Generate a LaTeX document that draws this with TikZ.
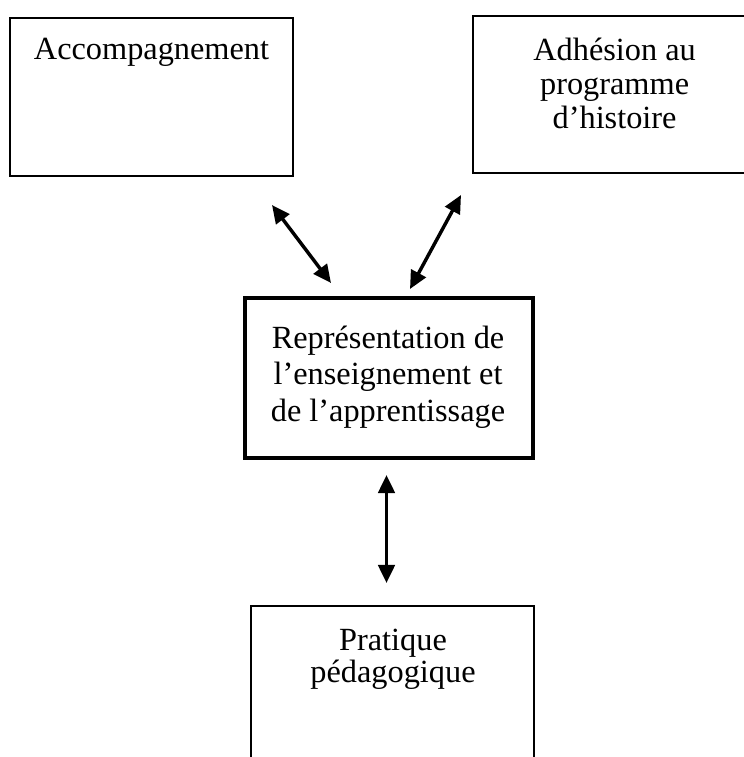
\documentclass[tikz,border=0pt]{standalone}
\usepackage{fontspec}
\setmainfont{Liberation Serif}
\usetikzlibrary{arrows.meta}
\def\px{0.3774pt}
\tikzset{
  box/.style={draw=black, line width=0.6pt, rectangle, inner sep=0pt, outer sep=0pt, anchor=north west},
  thickbox/.style={box, line width=1.6pt},
  txt/.style={inner sep=0pt, align=center, anchor=base},
  link/.style={line width=1.3pt, {Triangle[length=6.8pt,width=6.2pt]}-{Triangle[length=6.8pt,width=6.2pt]}}
}
\begin{document}
\begin{tikzpicture}[x=0.3774pt, y=-0.3774pt]
\path[use as bounding box, clip] (0,0) rectangle (744,757);
\fill[white] (0,0) rectangle (744,757);
% boxes
\node[box, minimum width={283*\px}, minimum height={158*\px}] (acc) at (10,18) {};
\node[box, minimum width={290*\px}, minimum height={157*\px}] (adh) at (473,16) {};
\node[thickbox, minimum width={288*\px}, minimum height={160*\px}] (rep) at (245,298) {};
\node[box, minimum width={283*\px}, minimum height={180*\px}] (pra) at (251,606) {};
% texts
\node[txt, font=\fontsize{12.2}{13.6}\selectfont] (tacc) at (151.5,60) {Accompagnement};
\node[txt, font=\fontsize{12.2}{12.8}\selectfont] (tadh) at (614.6,128) {Adhésion au\\programme\\d’histoire};
\node[txt, font=\fontsize{12.2}{13.6}\selectfont] (trep) at (388,421) {Représentation de\\l’enseignement et\\de l’apprentissage};
\node[txt, font=\fontsize{12.2}{12}\selectfont] (tpra) at (393,682) {Pratique\\pédagogique};
% arrow ends
\coordinate (a1) at (272,205);
\coordinate (a2) at (331,283);
\coordinate (b1) at (461,195);
\coordinate (b2) at (410,289);
\coordinate (c1) at (386.5,475);
\coordinate (c2) at (386.5,583);
\draw[link] (a1) -- (a2);
\draw[link] (b1) -- (b2);
\draw[link] (c1) -- (c2);
\end{tikzpicture}
\end{document}
